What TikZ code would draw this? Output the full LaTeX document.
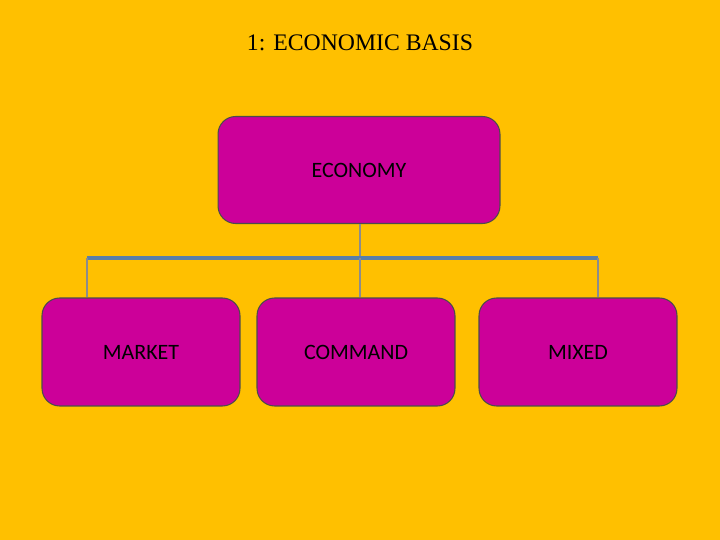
\documentclass[tikz,border=0pt]{standalone}
\usepackage{fontspec}
\setmainfont{Carlito}
\newfontfamily\titlefont{Liberation Serif}
\definecolor{bgyellow}{HTML}{FFC000}
\definecolor{boxmagenta}{HTML}{CC0099}
\definecolor{linegray}{HTML}{8C8C8C}
\definecolor{lineblue}{HTML}{5A7FA8}
\tikzset{
  unit/.style={draw=black!70, fill=boxmagenta, rounded corners=10pt, line width=0.6pt,
    minimum height=2.16cm, font=\fontsize{12.5}{14}\selectfont},
  link/.style={draw=linegray, line width=0.6pt}
}
\begin{document}
\begin{tikzpicture}[x=0.02cm,y=-0.02cm]
  \fill[bgyellow] (0,0) rectangle (720,540);
  \useasboundingbox (0,0) rectangle (720,540);
  \node (title) at (360,43) {\titlefont\fontsize{13.5}{16}\selectfont 1: ECONOMIC BASIS};

  \node[unit, minimum width=5.64cm, minimum height=2.14cm] (economy) at (359,170) {ECONOMY};
  \node[unit, minimum width=3.96cm] (market) at (141,352) {MARKET};
  \node[unit, minimum width=3.96cm] (command) at (356,352) {COMMAND};
  \node[unit, minimum width=3.96cm] (mixed) at (578,352) {MIXED};

  \coordinate (hub) at (360,258);
  \coordinate (left) at (87,258);
  \coordinate (right) at (598,258);

  \draw[link] (economy.south -| hub) -- (hub);
  \draw[lineblue, line width=2pt] (left) -- (right);
  \draw[link] (left) -- (left |- market.north);
  \draw[link] (hub) -- (hub |- command.north);
  \draw[link] (right) -- (right |- mixed.north);
\end{tikzpicture}
\end{document}
